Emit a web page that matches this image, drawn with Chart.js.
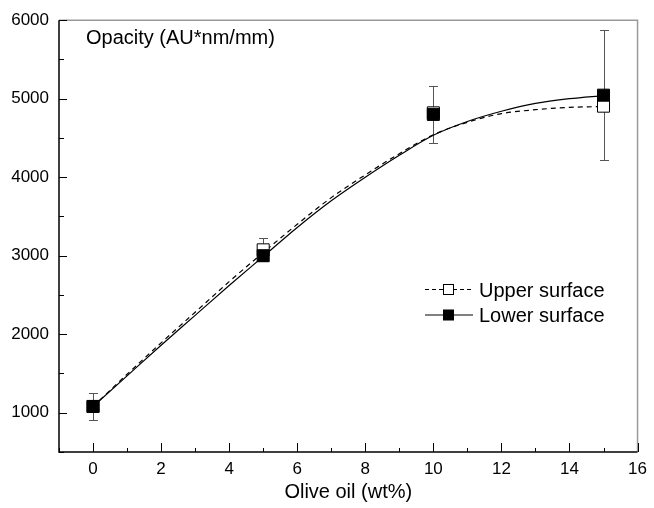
<!DOCTYPE html>
<html>
<head>
<meta charset="utf-8">
<script src="https://cdn.jsdelivr.net/npm/chart.js@4.4.0/dist/chart.umd.min.js"></script>
<style>
    body { margin: 0; background: #fff; }
    #wrap { width: 654px; height: 508px; }
</style>
</head>
<body>
<div id="wrap"><canvas id="chart" width="654" height="508"></canvas></div>
<script>
// measured points (mean +/- sd)
const xPoints = [0, 5, 10, 15];
const upperMean = [1080, 3075, 4820, 4905];
const upperErr = [170, 145, 50, 50];
const lowerMean = [1080, 3000, 4800, 5045];
const lowerErr = [170, 60, 365, 830];

// fitted curves at whole x values
const curveX = [0, 1, 2, 3, 4, 5, 6, 7, 8, 9, 10, 11, 12, 13, 14, 15];
const upperFit = [1080, 1490, 1890, 2280, 2670, 3040, 3400, 3740, 4030, 4300, 4540, 4700, 4810, 4860, 4890, 4900];
const lowerFit = [1080, 1470, 1860, 2240, 2620, 2990, 3360, 3700, 4000, 4280, 4535, 4710, 4840, 4940, 5000, 5040];

const seriesNames = ['Upper surface', 'Lower surface'];
const xTicks = [0, 2, 4, 6, 8, 10, 12, 14, 16];
const yTicks = [1000, 2000, 3000, 4000, 5000, 6000];

const FONT = "'Liberation Sans', Arial, sans-serif";

const toXY = (xs, ys) => xs.map((x, i) => ({ x: x, y: ys[i] }));

// error bars, drawn under the markers
const errorBars = {
    id: 'errorBars',
    beforeDatasetsDraw(chart) {
        const ctx = chart.ctx;
        const xs = chart.scales.x, ys = chart.scales.y;
        ctx.save();
        ctx.strokeStyle = '#555';
        ctx.lineWidth = 1;
        [[upperMean, upperErr], [lowerMean, lowerErr]].forEach(([m, e]) => {
            xPoints.forEach((x, i) => {
                const px = Math.round(xs.getPixelForValue(x)) + 0.5;
                const top = Math.round(ys.getPixelForValue(m[i] + e[i])) + 0.5;
                const bot = Math.round(ys.getPixelForValue(m[i] - e[i])) + 0.5;
                ctx.beginPath();
                ctx.moveTo(px, top); ctx.lineTo(px, bot);
                ctx.moveTo(px - 4.5, top); ctx.lineTo(px + 4.5, top);
                ctx.moveTo(px - 4.5, bot); ctx.lineTo(px + 4.5, bot);
                ctx.stroke();
            });
        });
        ctx.restore();
    }
};

// frame, inward ticks, inner title and legend
const decorations = {
    id: 'decorations',
    afterDraw(chart) {
        const ctx = chart.ctx;
        const a = chart.chartArea;
        const xs = chart.scales.x, ys = chart.scales.y;
        ctx.save();

        ctx.strokeStyle = '#999';
        ctx.lineWidth = 1.5;
        ctx.beginPath();
        ctx.moveTo(a.left, a.top); ctx.lineTo(a.right, a.top); ctx.lineTo(a.right, a.bottom);
        ctx.stroke();

        ctx.strokeStyle = '#000';
        ctx.lineWidth = 1.5;
        ctx.beginPath();
        ctx.moveTo(a.left, a.top); ctx.lineTo(a.left, a.bottom); ctx.lineTo(a.right, a.bottom);
        ctx.stroke();

        ctx.lineWidth = 1;
        ctx.beginPath();
        for (let v = xs.min; v <= xs.max; v += 1) {
            const px = Math.round(xs.getPixelForValue(v)) + 0.5;
            const len = v % 2 === 0 ? 9 : 4;
            ctx.moveTo(px, a.bottom); ctx.lineTo(px, a.bottom - len);
        }
        for (let v = ys.min; v <= ys.max; v += 500) {
            const py = Math.round(ys.getPixelForValue(v)) + 0.5;
            const len = v % 1000 === 0 ? 8 : 5;
            ctx.moveTo(a.left, py); ctx.lineTo(a.left + len, py);
        }
        ctx.stroke();

        ctx.fillStyle = '#000';
        ctx.font = '20px ' + FONT;
        ctx.textAlign = 'left';
        ctx.textBaseline = 'alphabetic';
        ctx.fillText('Opacity (AU*nm/mm)', 86, 44);

        // legend
        const rows = [
            { name: seriesNames[0], dash: [4, 3], fill: '#fff', y: 289.5 },
            { name: seriesNames[1], dash: [], fill: '#000', y: 315 }
        ];
        rows.forEach(r => {
            ctx.strokeStyle = '#000';
            ctx.lineWidth = 1;
            ctx.setLineDash(r.dash);
            ctx.beginPath();
            ctx.moveTo(425, r.y); ctx.lineTo(473, r.y);
            ctx.stroke();
            ctx.setLineDash([]);
            ctx.fillStyle = r.fill;
            ctx.fillRect(443.5, r.y - 5, 10, 10);
            ctx.strokeRect(443.5, r.y - 5, 10, 10);
            ctx.fillStyle = '#000';
            ctx.fillText(r.name, 479, r.y + 7);
        });
        ctx.restore();
    }
};

const ctx = document.getElementById('chart').getContext('2d');
const myChart = new Chart(ctx, {
    type: 'line',
    data: {
        datasets: [
            {
                label: seriesNames[1],
                data: toXY(xPoints, lowerMean),
                showLine: false,
                pointStyle: 'rect',
                pointRadius: 8.5,
                pointBackgroundColor: '#000',
                pointBorderColor: '#000',
                pointBorderWidth: 1,
                order: 0
            },
            {
                label: seriesNames[0],
                data: toXY(xPoints, upperMean),
                showLine: false,
                pointStyle: 'rect',
                pointRadius: 8.5,
                pointBackgroundColor: '#fff',
                pointBorderColor: '#000',
                pointBorderWidth: 1,
                order: 1
            },
            {
                label: seriesNames[1] + ' fit',
                data: toXY(curveX, lowerFit),
                borderColor: '#000',
                borderWidth: 1.2,
                pointRadius: 0,
                cubicInterpolationMode: 'monotone',
                order: 2
            },
            {
                label: seriesNames[0] + ' fit',
                data: toXY(curveX, upperFit),
                borderColor: '#000',
                borderWidth: 1.2,
                borderDash: [5, 4],
                pointRadius: 0,
                cubicInterpolationMode: 'monotone',
                order: 3
            }
        ]
    },
    options: {
        responsive: false,
        animation: false,
        layout: { padding: { top: 19, right: 11, left: 0, bottom: 0 } },
        plugins: {
            legend: { display: false },
            tooltip: { enabled: false }
        },
        scales: {
            x: {
                type: 'linear',
                min: -1,
                max: 16,
                afterBuildTicks: s => { s.ticks = xTicks.map(v => ({ value: v })); },
                afterFit: s => { s.height = 56; },
                grid: { display: false, drawTicks: false },
                border: { display: false },
                ticks: {
                    color: '#000',
                    padding: 7,
                    font: { family: FONT, size: 17 },
                    callback: v => String(v)
                },
                title: {
                    display: true,
                    text: 'Olive oil (wt%)',
                    color: '#000',
                    padding: { top: 0, bottom: 4 },
                    font: { family: FONT, size: 20 }
                }
            },
            y: {
                min: 500,
                max: 6000,
                afterBuildTicks: s => { s.ticks = yTicks.map(v => ({ value: v })); },
                afterFit: s => { s.width = 59; },
                grid: { display: false, drawTicks: false },
                border: { display: false },
                ticks: {
                    color: '#000',
                    padding: 10,
                    font: { family: FONT, size: 17 },
                    callback: v => String(v)
                }
            }
        }
    },
    plugins: [errorBars, decorations]
});
</script>
</body>
</html>
